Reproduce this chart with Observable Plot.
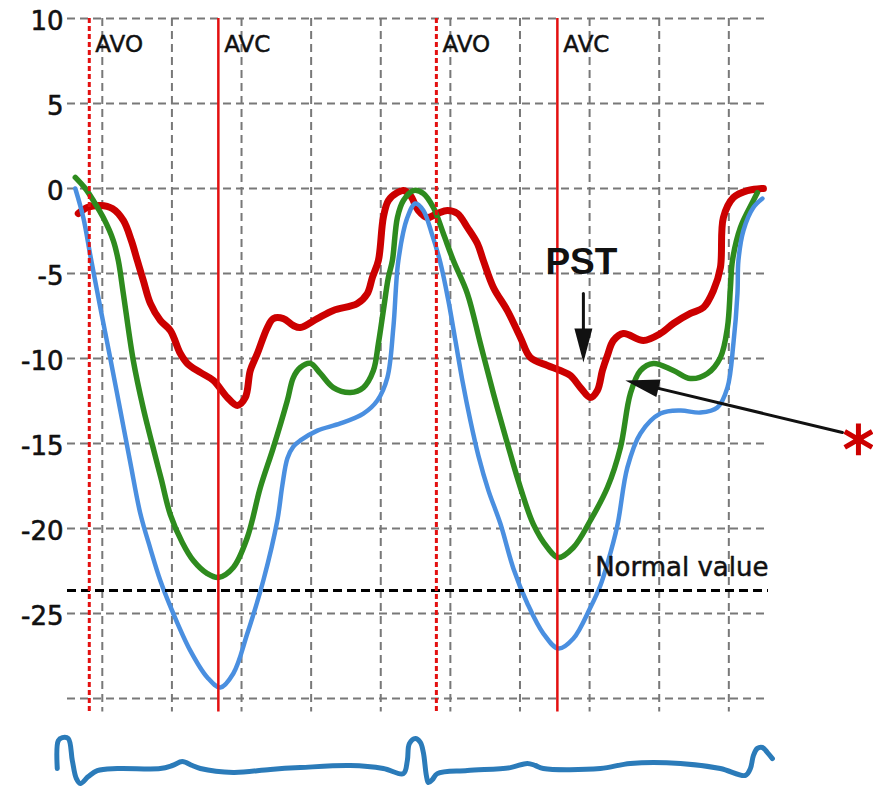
<!DOCTYPE html>
<html>
<head>
<meta charset="utf-8">
<script src="https://cdn.jsdelivr.net/npm/d3@7"></script>
<script src="https://cdn.jsdelivr.net/npm/@observablehq/plot@0.6"></script>
<style>
  html, body { margin: 0; padding: 0; background: #fff; overflow: hidden; }
  #chart svg { display: block; }
  g[aria-label="valve labels"] text { letter-spacing: -1px; }
  g[aria-label="pst label"] text { letter-spacing: -1px; }
  g[aria-label="normal label"] text { letter-spacing: -0.5px; }
</style>
</head>
<body>
<div id="chart"></div>
<script>
// Time runs in grid divisions across two cardiac cycles; strain is in percent.
const timeDomain = [0.5, 10.57];
const strainDomain = [-30, 10];
const strainTicks = [10, 5, 0, -5, -10, -15, -20, -25];
const strainGrid = [10, 5, 0, -5, -10, -15, -20, -25, -30];
const timeGrid = [1, 2, 3, 4, 5, 6, 7, 8, 9, 10];
const gridBottom = -30.8;

// Aortic valve opening / closure markers
const valveEvents = ["AVO", "AVC", "AVO", "AVC"];
const valveTimes = [0.813, 2.667, 5.799, 7.537];
const valveLabelStrain = 8.47;

// Lower limit of normal peak systolic strain
const normalValue = -23.65;
const normalLabel = "Normal value";
const normalLabelStrain = -22.32;

// Segmental strain curves [time, strain %]
const redStrain = [[0.655,-1.47],[0.784,-1.12],[0.971,-1.0],[1.144,-1.18],[1.302,-1.88],[1.417,-3.06],[1.503,-4.24],[1.589,-5.41],[1.690,-6.76],[1.833,-7.76],[1.977,-8.35],[2.121,-9.71],[2.221,-10.29],[2.408,-10.82],[2.595,-11.29],[2.796,-12.29],[2.940,-12.76],[3.055,-12.29],[3.126,-10.71],[3.227,-9.71],[3.371,-8.18],[3.457,-7.65],[3.601,-7.65],[3.744,-8.06],[3.845,-8.18],[4.089,-7.65],[4.319,-7.18],[4.664,-6.76],[4.807,-6.18],[4.879,-5.24],[4.966,-4.24],[5.037,-1.71],[5.109,-0.71],[5.239,-0.24],[5.325,-0.12],[5.425,-0.41],[5.540,-1.29],[5.670,-1.71],[5.813,-1.47],[5.957,-1.29],[6.101,-1.47],[6.244,-2.29],[6.388,-3.24],[6.474,-4.24],[6.618,-5.82],[6.819,-7.18],[7.006,-8.76],[7.149,-9.94],[7.394,-10.41],[7.580,-10.71],[7.724,-11.0],[7.868,-11.71],[8.011,-12.29],[8.112,-11.88],[8.184,-10.71],[8.256,-9.82],[8.342,-8.94],[8.486,-8.53],[8.773,-8.94],[9.017,-8.53],[9.204,-7.94],[9.448,-7.35],[9.635,-7.0],[9.779,-6.0],[9.879,-4.65],[9.922,-1.71],[10.066,-0.53],[10.267,-0.12],[10.497,0.0]];

const greenStrain = [[0.612,0.65],[0.756,0.0],[0.871,-0.71],[1.014,-1.71],[1.158,-3.06],[1.230,-4.24],[1.302,-6.18],[1.445,-10.12],[1.589,-12.94],[1.718,-15.06],[1.848,-17.12],[1.977,-19.18],[2.149,-20.82],[2.307,-21.88],[2.509,-22.65],[2.667,-22.88],[2.882,-22.29],[3.083,-20.53],[3.270,-17.59],[3.457,-15.24],[3.658,-12.47],[3.744,-11.12],[3.845,-10.53],[3.989,-10.29],[4.132,-10.88],[4.319,-11.71],[4.563,-12.0],[4.750,-11.71],[4.894,-10.71],[4.966,-9.12],[5.037,-7.18],[5.109,-5.24],[5.167,-4.24],[5.239,-1.71],[5.325,-0.71],[5.468,-0.12],[5.612,-0.29],[5.756,-1.12],[5.899,-2.65],[6.043,-4.24],[6.244,-6.18],[6.431,-9.12],[6.618,-12.06],[6.819,-15.0],[7.006,-17.59],[7.193,-19.76],[7.394,-21.12],[7.552,-21.71],[7.767,-21.12],[8.011,-19.53],[8.256,-17.59],[8.443,-15.24],[8.586,-12.06],[8.730,-10.71],[8.917,-10.29],[9.204,-10.71],[9.448,-11.18],[9.693,-10.88],[9.879,-9.94],[9.980,-8.18],[10.023,-5.82],[10.052,-4.24],[10.167,-2.29],[10.353,-0.71],[10.411,-0.24]];

const blueStrain = [[0.612,0],[0.727,-1.71],[0.828,-3.94],[0.971,-7.0],[1.115,-10.0],[1.259,-13.06],[1.402,-16.12],[1.546,-19.12],[1.690,-21.18],[1.833,-23.06],[2.020,-25.0],[2.264,-27.18],[2.509,-28.76],[2.695,-29.35],[2.882,-28.53],[3.083,-26.18],[3.313,-23.06],[3.514,-19.53],[3.586,-17.47],[3.658,-15.88],[3.744,-15.18],[3.845,-14.82],[4.089,-14.24],[4.420,-13.82],[4.750,-13.24],[4.951,-12.47],[5.095,-11.12],[5.181,-8.18],[5.253,-4.24],[5.382,-1.71],[5.497,-0.88],[5.612,-1.29],[5.741,-2.76],[5.856,-4.35],[5.971,-6.59],[6.072,-8.94],[6.172,-11.29],[6.287,-13.65],[6.402,-15.71],[6.546,-17.76],[6.718,-19.71],[6.905,-22.35],[7.106,-24.41],[7.336,-26.18],[7.552,-27.06],[7.767,-26.47],[8.011,-24.65],[8.155,-23.35],[8.256,-22.06],[8.399,-19.82],[8.543,-16.41],[8.730,-14.41],[9.017,-13.24],[9.305,-13.06],[9.592,-13.18],[9.836,-12.88],[9.980,-11.71],[10.066,-9.12],[10.124,-6.18],[10.138,-4.24],[10.210,-2.47],[10.353,-1.12],[10.483,-0.59]];

// ECG trace [time, mV]
const ecgTrace = [[0.353,0],[0.368,0.93],[0.425,1.03],[0.511,1.0],[0.569,0.27],[0.626,-0.33],[0.684,-0.5],[0.799,-0.27],[0.928,-0.07],[1.216,0],[1.833,0],[2.006,0.1],[2.149,0.23],[2.293,0.1],[2.408,0],[2.882,-0.13],[3.414,-0.03],[3.845,0.03],[4.563,0.1],[5.037,0],[5.325,-0.17],[5.382,0.27],[5.411,0.83],[5.497,1.0],[5.569,0.87],[5.612,0.53],[5.655,-0.23],[5.684,-0.47],[5.741,-0.37],[5.813,-0.17],[6.244,-0.07],[6.862,0.03],[7.106,0.17],[7.221,0.1],[7.336,0],[8.155,0],[8.586,0.17],[9.305,0.17],[9.879,0],[10.239,-0.23],[10.31,0],[10.353,0.43],[10.41,0.67],[10.483,0.7],[10.555,0.53],[10.626,0.33]];
const ecgDomain = [-0.7, 1.3];

// Annotations: post-systolic shortening and the marked green shoulder
const pstLabel = {text: "PST", x: 7.882, y: -4.35};
const annotationArrows = [
  {x1: 7.911, y1: -6.18, x2: 7.911, y2: -10.24},
  {x1: 11.632, y1: -14.35, x2: 8.514, y2: -11.29}
];
const starMark = {x: 11.862, y: -14.76};

// Layout
const W = 873, H = 720, ecgH = 69;
const margin = {top: 18, right: 105, bottom: 22, left: 67};

// Pixel-space helpers to orient the filled arrowheads
const px = d3.scaleLinear(timeDomain, [margin.left, W - margin.right]);
const py = d3.scaleLinear(strainDomain, [H - margin.bottom, margin.top]);
const heading = (a) => Math.atan2(px(a.x2) - px(a.x1), -(py(a.y2) - py(a.y1))) * 180 / Math.PI;

// Filled triangular arrowhead, tip at the origin pointing up
function arrowHead(length, width) {
  return {
    draw(context) {
      context.moveTo(0, 0);
      context.lineTo(width / 2, length);
      context.lineTo(-width / 2, length);
      context.closePath();
    }
  };
}

const gridStyle = {stroke: "#787878", strokeWidth: 2, strokeDasharray: "8,5"};
const heavyText = {fill: "#111", stroke: "#111", strokeWidth: 0.6};
const xy = {x: d => d[0], y: d => d[1], curve: "catmull-rom"};
const valves = valveEvents.map((event, i) => ({event, t: valveTimes[i]}));

const main = Plot.plot({
  width: W,
  height: H,
  marginTop: margin.top,
  marginRight: margin.right,
  marginBottom: margin.bottom,
  marginLeft: margin.left,
  x: {domain: timeDomain, axis: null},
  y: {domain: strainDomain, axis: null},
  style: {fontFamily: "DejaVu Sans", background: "white", overflow: "visible"},
  marks: [
    Plot.ruleY(strainGrid, {y: d => d, x1: timeDomain[0], x2: timeDomain[1], ...gridStyle}),
    Plot.ruleX(timeGrid, {x: d => d, y1: strainDomain[1], y2: gridBottom, ...gridStyle}),
    Plot.text(strainTicks, {x: timeDomain[0], y: d => d, text: d => String(d), textAnchor: "end", dx: -4, dy: 3, fontSize: 26, ...heavyText}),
    Plot.line(redStrain, {...xy, stroke: "#cc0000", strokeWidth: 7}),
    Plot.line(greenStrain, {...xy, stroke: "#2e8b1e", strokeWidth: 5.5}),
    Plot.line(blueStrain, {...xy, stroke: "#4a8fe0", strokeWidth: 4.5}),
    Plot.ruleY([normalValue], {y: d => d, x1: timeDomain[0], x2: timeDomain[1], stroke: "#000", strokeWidth: 3, strokeDasharray: "9,5"}),
    Plot.ruleX(valves.filter(d => d.event === "AVO"), {x: "t", y1: strainDomain[1], y2: gridBottom, stroke: "#e31010", strokeWidth: 3, strokeDasharray: "5,3"}),
    Plot.ruleX(valves.filter(d => d.event === "AVC"), {x: "t", y1: strainDomain[1], y2: gridBottom, stroke: "#e31010", strokeWidth: 2.5}),
    Plot.text(valves, {x: "t", y: valveLabelStrain, text: "event", textAnchor: "start", dx: 6, fontSize: 23, ...heavyText, strokeWidth: 0.5, ariaLabel: "valve labels"}),
    Plot.text([normalLabel], {x: timeDomain[1], y: normalLabelStrain, text: d => d, textAnchor: "end", fontSize: 26, ...heavyText, strokeWidth: 0.5, ariaLabel: "normal label"}),
    Plot.text([pstLabel], {x: "x", y: "y", text: "text", fontFamily: "Liberation Sans", fontWeight: "bold", fontSize: 37, fill: "#111", ariaLabel: "pst label"}),
    Plot.arrow(annotationArrows, {x1: "x1", y1: "y1", x2: "x2", y2: "y2", headLength: 0, insetEnd: 20, stroke: "#111", strokeWidth: 3}),
    Plot.dot(annotationArrows, {x: "x2", y: "y2", symbol: arrowHead(34, 18), rotate: heading, fill: "#111", stroke: "none"}),
    Plot.dot([starMark], {x: "x", y: "y", symbol: "asterisk", r: 15, stroke: "#cc0000", strokeWidth: 5})
  ]
});

const ecg = Plot.plot({
  width: W,
  height: ecgH,
  marginTop: 9,
  marginBottom: 0,
  marginLeft: margin.left,
  marginRight: margin.right,
  x: {domain: timeDomain, axis: null},
  y: {domain: ecgDomain, axis: null},
  style: {background: "white", overflow: "visible"},
  marks: [
    Plot.line(ecgTrace, {...xy, stroke: "#2b7bb9", strokeWidth: 5})
  ]
});

const chart = document.getElementById("chart");
chart.append(main, ecg);
</script>
</body>
</html>
